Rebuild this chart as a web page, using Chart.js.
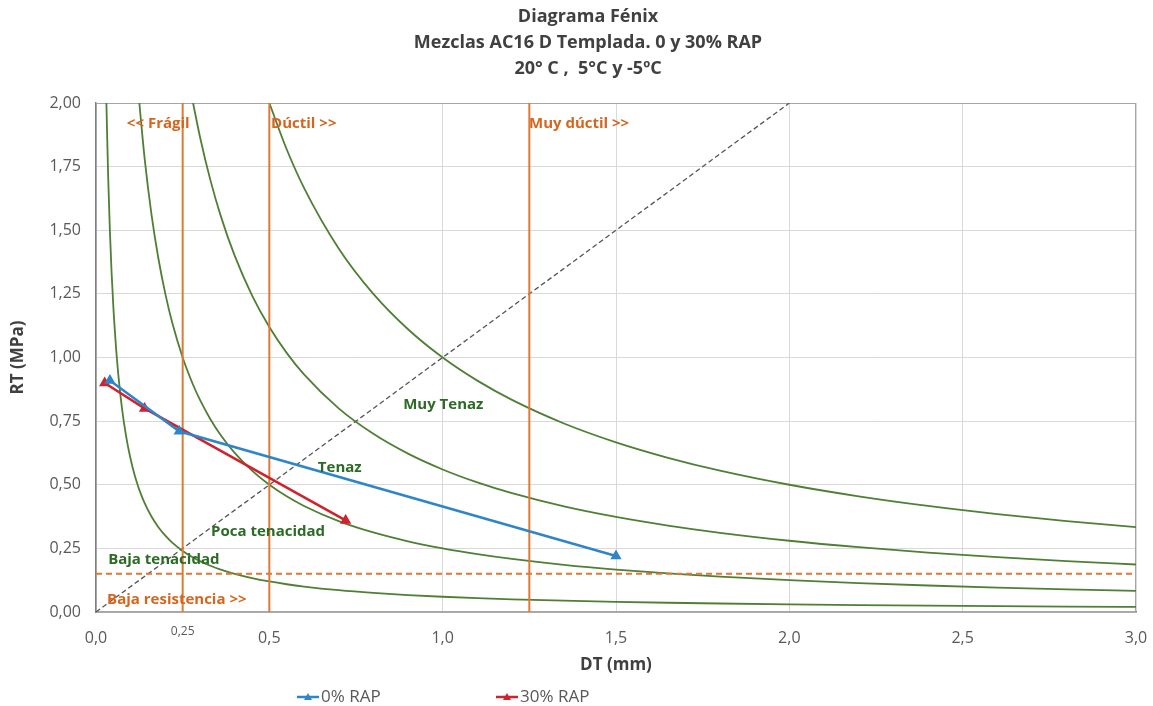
<!DOCTYPE html>
<html><head><meta charset="utf-8">
<script src="https://cdn.jsdelivr.net/npm/chart.js@4.4.1/dist/chart.umd.min.js"></script>
<style>html,body{margin:0;padding:0;background:#fff;}#wrap{width:1153px;height:706px;}</style>
</head><body><div id="wrap"><canvas id="c" width="1153" height="706"></canvas></div>
<script>
// ---- data ----
const titleLines = ['Diagrama Fénix', 'Mezclas AC16 D Templada. 0 y 30% RAP', '20° C ,  5°C y -5ºC'];
const seriesNames = ['0% RAP', '30% RAP'];
const dt0 = [0.04, 0.24, 1.50];
const rt0 = [0.91, 0.71, 0.22];
const dt30 = [0.025, 0.14, 0.72];
const rt30 = [0.90, 0.80, 0.36];
// iso-toughness reference curves RT = k / DT
const toughnessLevels = [0.06, 0.25, 0.56, 1.0];
const curveDT = [0.02,0.025,0.03,0.035,0.04,0.045,0.05,0.06,0.07,0.08,0.09,0.1,0.11,0.12,0.125,0.14,0.16,0.18,0.2,0.22,0.25,0.28,0.3,0.33,0.36,0.4,0.45,0.5,0.55,0.6,0.7,0.8,0.9,1.0,1.1,1.2,1.35,1.5,1.65,1.8,2.0,2.2,2.4,2.6,2.8,3.0];
const limitDT = [0.25, 0.5, 1.25];
const lowStrengthRT = 0.15;
const xTickValues = [0, 0.5, 1.0, 1.5, 2.0, 2.5, 3.0];
const yTickValues = [0, 0.25, 0.5, 0.75, 1.0, 1.25, 1.5, 1.75, 2.0];
const extraXTick = 0.25;
const zoneLabels = [
  {text: '<< Frágil', x: 0.089, y: 1.92, c: 'o'},
  {text: 'Dúctil >>', x: 0.505, y: 1.92, c: 'o'},
  {text: 'Muy dúctil >>', x: 1.249, y: 1.92, c: 'o'},
  {text: 'Muy Tenaz', x: 0.886, y: 0.813, c: 'g'},
  {text: 'Tenaz', x: 0.64, y: 0.566, c: 'g'},
  {text: 'Poca tenacidad', x: 0.332, y: 0.314, c: 'g'},
  {text: 'Baja tenacidad', x: 0.035, y: 0.204, c: 'g'},
  {text: 'Baja resistencia >>', x: 0.032, y: 0.047, c: 'o'}
];

const BLUE = '#2e86c8', RED = '#d0222c', GREEN = '#4f7f35', ORANGE = '#dd7a35';
const TXT_O = '#d4661f', TXT_G = '#2b6b26';
const FONT = "'Open Sans', 'DejaVu Sans', sans-serif";

const datasets = [];
datasets.push({label: seriesNames[0], data: dt0.map((x,i)=>({x, y: rt0[i]})), borderColor: BLUE, backgroundColor: BLUE,
  borderWidth: 2.5, pointStyle: 'triangle', pointRadius: 4, showLine: true, order: 0});
datasets.push({label: seriesNames[1], data: dt30.map((x,i)=>({x, y: rt30[i]})), borderColor: RED, backgroundColor: RED,
  borderWidth: 2.5, pointStyle: 'triangle', pointRadius: 4, showLine: true, order: 1});
toughnessLevels.forEach((k)=>{
  const pts = [{x: k/2.0, y: 2.0}];
  curveDT.forEach(x=>{ if (k/x < 2.0) pts.push({x, y: k/x}); });
  datasets.push({label: 'k'+k, data: pts, borderColor: GREEN, borderWidth: 1.8, pointRadius: 0,
    showLine: true, cubicInterpolationMode: 'monotone', order: 5});
});
limitDT.forEach(v=>{
  datasets.push({label: 'v'+v, data: [{x: v, y: 0}, {x: v, y: 2}], borderColor: ORANGE, borderWidth: 2, pointRadius: 0, showLine: true, order: 4});
});
datasets.push({label: 'h', data: [{x: 0, y: lowStrengthRT}, {x: 3, y: lowStrengthRT}], borderColor: ORANGE, borderWidth: 2,
  borderDash: [6, 4], pointRadius: 0, showLine: true, order: 4});
datasets.push({label: 'diag', data: [{x: 0, y: 0}, {x: 2, y: 2}], borderColor: '#555555', borderWidth: 1.3,
  borderDash: [5, 3], pointRadius: 0, showLine: true, order: 6});

const deco = {
  id: 'deco',
  beforeDatasetsDraw(chart) {
    const {ctx, chartArea: a} = chart;
    ctx.save();
    ctx.strokeStyle = '#a6a6a6'; ctx.lineWidth = 1;
    ctx.strokeRect(a.left + 0.5, a.top + 0.5, a.right - a.left - 1, a.bottom - a.top - 1);
    ctx.restore();
  },
  afterDraw(chart) {
    const {ctx, scales: {x, y}, chartArea: a} = chart;
    ctx.save();
    // title
    ctx.fillStyle = '#404040'; ctx.textAlign = 'center'; ctx.textBaseline = 'middle';
    ctx.font = 'bold 18px ' + FONT;
    titleLines.forEach((t, i) => ctx.fillText(t, 588, 17 + i * 26));
    // zone labels
    ctx.textAlign = 'left'; ctx.font = 'bold 15px ' + FONT;
    zoneLabels.forEach(l => {
      ctx.fillStyle = l.c === 'o' ? TXT_O : TXT_G;
      ctx.fillText(l.text, x.getPixelForValue(l.x), y.getPixelForValue(l.y));
    });
    // extra tick label 0,25
    ctx.fillStyle = '#595959'; ctx.textAlign = 'center'; ctx.font = '12px ' + FONT;
    ctx.fillText(extraXTick.toFixed(2).replace('.', ','), x.getPixelForValue(extraXTick), a.bottom + 20);
    // legend
    const items = [{name: seriesNames[0], c: BLUE, x0: 297}, {name: seriesNames[1], c: RED, x0: 496}];
    const ly = 697;
    items.forEach(it => {
      ctx.strokeStyle = it.c; ctx.lineWidth = 2.5;
      ctx.beginPath(); ctx.moveTo(it.x0, ly); ctx.lineTo(it.x0 + 22, ly); ctx.stroke();
      ctx.fillStyle = it.c; ctx.beginPath();
      const cx = it.x0 + 11; ctx.moveTo(cx, ly - 4); ctx.lineTo(cx + 4, ly + 3); ctx.lineTo(cx - 4, ly + 3); ctx.closePath(); ctx.fill();
      ctx.fillStyle = '#595959'; ctx.textAlign = 'left'; ctx.font = '17px ' + FONT;
      ctx.fillText(it.name, it.x0 + 24, ly);
    });
    ctx.restore();
  }
};

new Chart(document.getElementById('c'), {
  type: 'scatter',
  data: {datasets},
  options: {
    responsive: false, animation: false, devicePixelRatio: 1,
    layout: {padding: {top: 103, right: 17, left: 0, bottom: 0}},
    plugins: {legend: {display: false}, title: {display: false}, tooltip: {enabled: false}},
    elements: {line: {tension: 0}},
    scales: {
      x: {type: 'linear', min: 0, max: 3,
        afterFit: s => { s.height = 94; s.paddingRight = 0; s.paddingLeft = 0; },
        afterBuildTicks: s => { s.ticks = xTickValues.map(v => ({value: v})); },
        grid: {color: '#d9d9d9', drawTicks: false},
        border: {color: '#7f7f7f', width: 1.5},
        ticks: {padding: 17, color: '#595959', font: {family: FONT, size: 16}, callback: v => v.toFixed(1).replace('.', ',')},
        title: {display: true, text: 'DT (mm)', color: '#404040', font: {family: FONT, size: 17, weight: 'bold'}, padding: {top: 0, bottom: 31}}
      },
      y: {type: 'linear', min: 0, max: 2,
        afterFit: s => { s.width = 96; s.paddingTop = 0; s.paddingBottom = 0; },
        afterBuildTicks: s => { s.ticks = yTickValues.map(v => ({value: v})); },
        grid: {color: '#d9d9d9', drawTicks: false},
        border: {color: '#7f7f7f', width: 1.5},
        ticks: {padding: 15, color: '#595959', font: {family: FONT, size: 16}, callback: v => v.toFixed(2).replace('.', ',')},
        title: {display: true, text: 'RT (MPa)', color: '#404040', font: {family: FONT, size: 17, weight: 'bold'}, padding: {top: 8, bottom: 0}}
      }
    }
  },
  plugins: [deco]
});
</script></body></html>
